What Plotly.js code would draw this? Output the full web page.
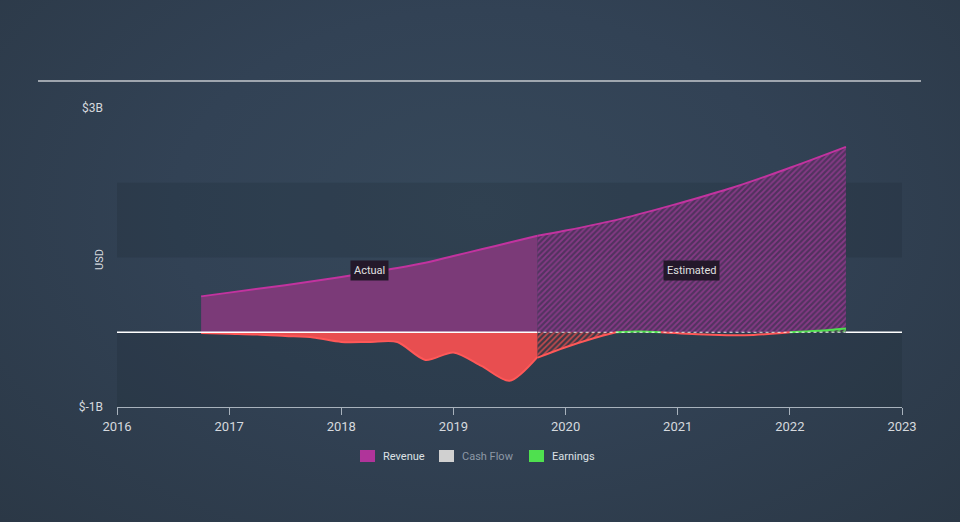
<!DOCTYPE html>
<html>
<head>
<meta charset="utf-8">
<script src="https://cdn.plot.ly/plotly-3.0.1.min.js"></script>
<style>
  html, body { margin:0; padding:0; width:960px; height:522px; overflow:hidden;
    background: radial-gradient(ellipse at 50% 40%, #36485a 0%, #324255 45%, #2b3846 100%); }
  #chart { width:960px; height:522px; }
</style>
</head>
<body>
<div id="chart"></div>
<script>
// ---- data (USD billions) ----
const revActualX = [2016.75, 2017.0, 2017.5, 2018.0, 2018.5, 2018.75, 2019.0, 2019.25, 2019.5, 2019.75];
const revActualY = [0.48, 0.53, 0.63, 0.74, 0.86, 0.93, 1.02, 1.11, 1.20, 1.29];
const revEstX = [2019.75, 2020.0, 2020.5, 2021.0, 2021.5, 2022.0, 2022.5];
const revEstY = [1.29, 1.36, 1.52, 1.72, 1.94, 2.20, 2.48];

const earnActualX = [2016.75, 2017.0, 2017.25, 2017.5, 2017.75, 2018.0, 2018.25, 2018.5, 2018.75, 2019.0, 2019.25, 2019.5, 2019.75];
const earnActualY = [-0.01, -0.02, -0.03, -0.05, -0.07, -0.13, -0.13, -0.13, -0.37, -0.27, -0.45, -0.65, -0.33];

const earnEstNeg1X = [2019.75, 2020.0, 2020.25, 2020.45];
const earnEstNeg1Y = [-0.34, -0.20, -0.08, 0.0];
const earnEstPos1X = [2020.45, 2020.65, 2020.85];
const earnEstPos1Y = [0.0, 0.01, 0.0];
const earnEstNeg2X = [2020.85, 2021.25, 2021.6, 2022.0];
const earnEstNeg2Y = [0.0, -0.03, -0.04, 0.0];
const earnEstPos2X = [2022.0, 2022.25, 2022.5];
const earnEstPos2Y = [0.0, 0.02, 0.05];

const xTickVals = [2016, 2017, 2018, 2019, 2020, 2021, 2022, 2023];
const yTickVals = [-1, 3];
const yTickText = ['$-1B', '$3B'];
const legendNames = ['Revenue', 'Cash Flow', 'Earnings'];
const legendColors = ['#b0349a', '#d0d0d0', '#4fe04f'];
const legendTextColors = ['#dde1e5', '#8d99a6', '#dde1e5'];

// ---- colours ----
const revLine = '#c2339f';
const redLine = '#ff5858';
const greenLine = '#4fe04f';

const traces = [
  { x: revActualX, y: revActualY, type: 'scatter', mode: 'lines', fill: 'tozeroy',
    fillcolor: '#7b3a78', line: { color: revLine, width: 2, shape: 'spline' }, showlegend: false, hoverinfo: 'skip' },
  { x: revEstX, y: revEstY, type: 'scatter', mode: 'lines', fill: 'tozeroy',
    fillcolor: 'rgba(110,50,110,0.55)',
    fillpattern: { shape: '/', fgcolor: 'rgba(140,58,138,0.9)', bgcolor: 'rgba(92,45,98,0.75)', size: 4, solidity: 0.45 },
    line: { color: revLine, width: 2, shape: 'spline' }, showlegend: false, hoverinfo: 'skip' },
  { x: earnActualX, y: earnActualY, type: 'scatter', mode: 'lines', fill: 'tozeroy',
    fillcolor: '#e84e50', line: { color: redLine, width: 2, shape: 'spline', smoothing: 0.8 }, showlegend: false, hoverinfo: 'skip' },
  { x: earnEstNeg1X, y: earnEstNeg1Y, type: 'scatter', mode: 'lines', fill: 'tozeroy',
    fillpattern: { shape: '/', fgcolor: 'rgba(232,78,80,0.8)', bgcolor: 'rgba(80,50,60,0.5)', size: 4, solidity: 0.4 },
    line: { color: redLine, width: 2, shape: 'spline' }, showlegend: false, hoverinfo: 'skip' },
  { x: earnEstPos1X, y: earnEstPos1Y, type: 'scatter', mode: 'lines',
    line: { color: greenLine, width: 2, shape: 'spline' }, showlegend: false, hoverinfo: 'skip' },
  { x: earnEstNeg2X, y: earnEstNeg2Y, type: 'scatter', mode: 'lines',
    line: { color: redLine, width: 2, shape: 'spline' }, showlegend: false, hoverinfo: 'skip' },
  { x: earnEstPos2X, y: earnEstPos2Y, type: 'scatter', mode: 'lines', fill: 'tozeroy',
    fillpattern: { shape: '/', fgcolor: 'rgba(79,224,79,0.8)', bgcolor: 'rgba(40,80,50,0.4)', size: 4, solidity: 0.4 },
    line: { color: greenLine, width: 2, shape: 'spline' }, showlegend: false, hoverinfo: 'skip' }
];

// paper coordinate helpers for the 117..902 x 108..407 plot box
const px = v => (v - 117) / 785;
const py = v => (407 - v) / 299;

const legendSwatchX = [360, 439, 529];
const shapes = [
  { type: 'rect', xref: 'paper', yref: 'y', x0: 0, x1: 1, y0: 1, y1: 2, layer: 'below',
    fillcolor: 'rgba(20,28,38,0.16)', line: { width: 0 } },
  { type: 'rect', xref: 'paper', yref: 'y', x0: 0, x1: 1, y0: -1, y1: 0, layer: 'below',
    fillcolor: 'rgba(20,28,38,0.16)', line: { width: 0 } },
  { type: 'line', xref: 'paper', yref: 'paper', x0: px(38), x1: px(921), y0: py(81), y1: py(81),
    line: { color: '#c4c9ce', width: 1.5 } },
  { type: 'line', xref: 'paper', yref: 'y', x0: 0, x1: px(537), y0: 0, y1: 0, layer: 'above',
    line: { color: '#ffffff', width: 1.3 } },
  { type: 'line', xref: 'x', yref: 'y', x0: revEstX[0], x1: revEstX[revEstX.length - 1], y0: 0, y1: 0, layer: 'above',
    line: { color: 'rgba(255,255,255,0.85)', width: 1.2, dash: 'dot' } },
  { type: 'line', xref: 'paper', yref: 'y', x0: px(846), x1: 1, y0: 0, y1: 0, layer: 'above',
    line: { color: '#ffffff', width: 1.3 } }
];
const annotations = [
  { x: 2018.25, y: 0.82, xref: 'x', yref: 'y', text: 'Actual', showarrow: false,
    font: { size: 11, color: '#e0e0e0' }, bgcolor: '#24182a', borderpad: 3 },
  { x: 2021.12, y: 0.82, xref: 'x', yref: 'y', text: 'Estimated', showarrow: false,
    font: { size: 11, color: '#e0e0e0' }, bgcolor: '#24182a', borderpad: 3 },
  { x: px(99), y: py(260), xref: 'paper', yref: 'paper', xanchor: 'center', yanchor: 'middle',
    text: 'USD', showarrow: false, textangle: -90, font: { size: 11, color: '#d5d9de' } }
];
legendNames.forEach((n, i) => {
  const sx = legendSwatchX[i];
  shapes.push({ type: 'rect', xref: 'paper', yref: 'paper', x0: px(sx), x1: px(sx + 15), y0: py(462), y1: py(450),
    fillcolor: legendColors[i], line: { width: 0 } });
  annotations.push({ x: px(sx + 21), y: py(456), xref: 'paper', yref: 'paper', xanchor: 'left', yanchor: 'middle',
    text: n, showarrow: false, font: { size: 11, color: legendTextColors[i] } });
});

const layout = {
  width: 960, height: 522,
  margin: { l: 117, r: 58, t: 108, b: 115 },
  paper_bgcolor: 'rgba(0,0,0,0)',
  plot_bgcolor: 'rgba(0,0,0,0)',
  font: { family: 'Roboto, "Liberation Sans", sans-serif', color: '#d5d9de', size: 12 },
  showlegend: false,
  xaxis: {
    range: [2016, 2023], tickvals: xTickVals, ticktext: xTickVals.map(String),
    showgrid: false, zeroline: false, showline: true, linecolor: '#a8b2bc', linewidth: 1,
    ticks: 'outside', ticklen: 7, tickcolor: '#a8b2bc', tickfont: { size: 13, color: '#d5d9de' },
    fixedrange: true
  },
  yaxis: {
    range: [-1, 3], tickvals: yTickVals, ticktext: yTickText,
    showgrid: false, zeroline: false, showline: false, ticks: '',
    ticklabelstandoff: 13,
    tickfont: { size: 12, color: '#d5d9de' }, fixedrange: true
  },
  shapes: shapes,
  annotations: annotations
};

Plotly.newPlot('chart', traces, layout, { displayModeBar: false, staticPlot: true });
</script>
</body>
</html>
